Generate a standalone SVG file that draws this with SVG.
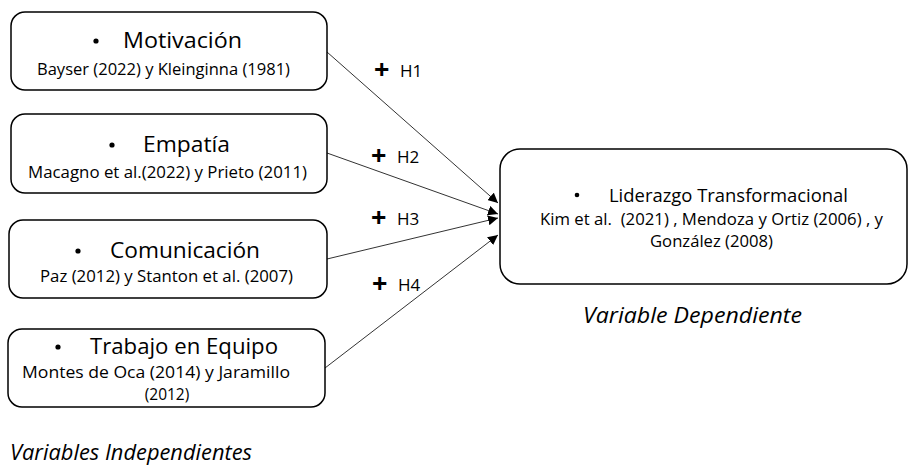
<svg xmlns="http://www.w3.org/2000/svg" width="911" height="468" viewBox="0 0 911 468">
<style>
.box{fill:#fff;stroke:#000;stroke-width:1.5}
.t{font-family:"Open Sans","Noto Sans",sans-serif;fill:#000}
.title{font-size:21.5px}
.sub{font-size:15.5px}
.ital{font-size:21px;font-style:italic}
.lbl{font-size:17px}
.plus{font-size:27px;font-weight:bold}
.conn{stroke:#333;stroke-width:1;fill:none;marker-end:url(#ah)}
</style>
<defs>
<marker id="ah" viewBox="0 0 10 10" refX="10" refY="5" markerWidth="10" markerHeight="10" markerUnits="userSpaceOnUse" orient="auto">
<path d="M0,0 L10,5 L0,10 z" fill="#000"/>
</marker>
</defs>
<rect width="911" height="468" fill="#fff"/>
<g id="connectors">
<line class="conn" x1="327" y1="52" x2="498" y2="203"/>
<line class="conn" x1="327" y1="153" x2="498" y2="214"/>
<line class="conn" x1="327" y1="259" x2="498" y2="218"/>
<line class="conn" x1="325" y1="368" x2="498" y2="235"/>
</g>
<g id="n1">
<rect class="box" x="11" y="12" width="316" height="78" rx="14"/>
<circle cx="96" cy="41" r="2.6"/>
<text class="t title" x="123" y="48" textLength="119" lengthAdjust="spacingAndGlyphs">Motivación</text>
<text class="t sub" x="37" y="75" textLength="253" lengthAdjust="spacingAndGlyphs">Bayser (2022) y Kleinginna (1981)</text>
</g>
<g id="n2">
<rect class="box" x="11" y="114" width="316" height="79" rx="14"/>
<circle cx="112" cy="145" r="2.6"/>
<text class="t title" x="143" y="152" textLength="87" lengthAdjust="spacingAndGlyphs">Empatía</text>
<text class="t sub" x="28" y="178" textLength="279" lengthAdjust="spacingAndGlyphs">Macagno et al.(2022) y Prieto (2011)</text>
</g>
<g id="n3">
<rect class="box" x="9" y="220" width="318" height="78" rx="14"/>
<circle cx="78" cy="251" r="2.6"/>
<text class="t title" x="110" y="258" textLength="150" lengthAdjust="spacingAndGlyphs">Comunicación</text>
<text class="t sub" x="40" y="282" textLength="253" lengthAdjust="spacingAndGlyphs">Paz (2012) y Stanton et al. (2007)</text>
</g>
<g id="n4">
<rect class="box" x="8" y="329" width="317" height="78" rx="14"/>
<circle cx="58" cy="347" r="2.6"/>
<text class="t title" x="90" y="354" textLength="188" lengthAdjust="spacingAndGlyphs">Trabajo en Equipo</text>
<text class="t sub" x="22" y="378" textLength="268" lengthAdjust="spacingAndGlyphs">Montes de Oca (2014) y Jaramillo</text>
<text class="t sub" x="167" y="400" text-anchor="middle" font-size="16.5">(2012)</text>
</g>
<g id="n5">
<rect class="box" x="500" y="149" width="407" height="135" rx="20"/>
<circle cx="577" cy="195" r="2.3"/>
<text class="t" font-size="18.5" x="609" y="202" textLength="239" lengthAdjust="spacingAndGlyphs">Liderazgo Transformacional</text>
<text class="t sub" x="540" y="225" textLength="343" lengthAdjust="spacingAndGlyphs" xml:space="preserve">Kim et al.  (2021) , Mendoza y Ortiz (2006) , y</text>
<text class="t sub" x="650" y="247" textLength="123" lengthAdjust="spacingAndGlyphs">González (2008)</text>
</g>
<g id="labels">
<text class="t plus" x="374" y="79">+</text><text class="t lbl" x="400" y="77">H1</text>
<text class="t plus" x="371" y="165">+</text><text class="t lbl" x="397" y="163">H2</text>
<text class="t plus" x="371" y="227">+</text><text class="t lbl" x="397" y="225">H3</text>
<text class="t plus" x="372" y="293">+</text><text class="t lbl" x="398" y="291">H4</text>
<text class="t ital" x="583" y="323" textLength="219" lengthAdjust="spacingAndGlyphs">Variable Dependiente</text>
<text class="t ital" x="10" y="460" textLength="242" lengthAdjust="spacingAndGlyphs">Variables Independientes</text>
</g>
</svg>
